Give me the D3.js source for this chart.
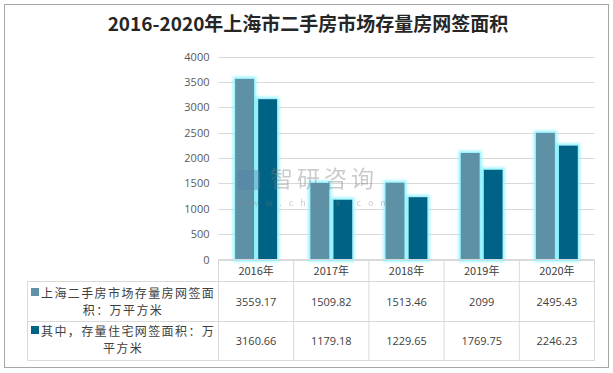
<!DOCTYPE html>
<html><head><meta charset="utf-8">
<script src="https://cdn.jsdelivr.net/npm/d3@7"></script>
<style>body{margin:0;background:#fff}svg{display:block}text{font-family:"Noto Sans CJK SC","Noto Sans",sans-serif}</style>
</head><body><svg id="c" width="613" height="373"></svg>
<script>
const categories = ["2016年","2017年","2018年","2019年","2020年"];
const seriesNames = ["上海二手房市场存量房网签面积：万平方米","其中，存量住宅网签面积：万平方米"];
const seriesLines = [["上海二手房市场存量房网签面","积：万平方米"],["其中，存量住宅网签面积：万","平方米"]];
const series1 = [3559.17,1509.82,1513.46,2099,2495.43];
const series2 = [3160.66,1179.18,1229.65,1769.75,2246.23];
const seriesLabels1 = ["3559.17","1509.82","1513.46","2099","2495.43"];
const seriesLabels2 = ["3160.66","1179.18","1229.65","1769.75","2246.23"];
const yTicks = [0,500,1000,1500,2000,2500,3000,3500,4000];
const colors = ["#5f91a6","#006285"];

const svg = d3.select("#c");
const defs = svg.append("defs");
const f = defs.append("filter").attr("id","glow").attr("x","-50%").attr("y","-20%").attr("width","200%").attr("height","140%");
f.append("feMorphology").attr("in","SourceAlpha").attr("operator","dilate").attr("radius",2.2).attr("result","d");
f.append("feGaussianBlur").attr("in","d").attr("stdDeviation",1.7).attr("result","b");
f.append("feFlood").attr("flood-color","#8ff2ff").attr("result","fl");
f.append("feComposite").attr("in","fl").attr("in2","b").attr("operator","in").attr("result","g");
const m = f.append("feMerge"); m.append("feMergeNode").attr("in","g"); m.append("feMergeNode").attr("in","SourceGraphic");

svg.append("rect").attr("x",4.5).attr("y",4.5).attr("width",604).attr("height",363).attr("fill","#fff").attr("stroke","#a6a6a6").attr("stroke-width",1);

svg.append("text").attr("x",308).attr("y",31).attr("text-anchor","middle").attr("font-size",19).attr("font-weight","bold").attr("fill","#262626").text("2016-2020年上海市二手房市场存量房网签面积");

const x0 = 218.5, x1 = 594.5;
const x = d3.scaleBand().domain(categories).range([x0,x1]);
const y = d3.scaleLinear().domain([0,4000]).range([259.5,56.5]);

// gridlines
svg.append("g").selectAll("line").data(yTicks).join("line")
 .attr("x1",x0).attr("x2",x1).attr("y1",d=>Math.round(y(d))+0.5).attr("y2",d=>Math.round(y(d))+0.5)
 .attr("stroke","#d9d9d9");
const ya = d3.axisLeft(y).tickValues(yTicks).tickFormat(d3.format("d")).tickSize(0).tickPadding(9);
const yg = svg.append("g").attr("transform",`translate(${x0},0)`).call(ya);
yg.select(".domain").remove();
yg.selectAll("text").attr("font-size",11).attr("fill","#595959").style("font-family","'Open Sans','DejaVu Sans',sans-serif");

const bw = 19, gap = 4;
const gb = svg.append("g").attr("filter","url(#glow)");
[series1,series2].forEach((s,i)=>{
  gb.selectAll(null).data(s).join("rect")
   .attr("x",(d,j)=>x(categories[j]) + x.bandwidth()/2 - bw - gap/2 + i*(bw+gap))
   .attr("width",bw)
   .attr("y",d=>y(d)).attr("height",d=>y(0)-y(d))
   .attr("fill",colors[i]);
});

// watermark (drawn over bars)
const wm = svg.append("g").attr("opacity",0.4);
wm.append("rect").attr("x",238).attr("y",170).attr("width",22).attr("height",20).attr("fill","#4f7fa8").attr("rx",3);
wm.append("text").attr("x",270).attr("y",187).attr("font-size",23).attr("fill","#7f7f7f").attr("letter-spacing",4).text("智研咨询");
wm.append("text").attr("x",237).attr("y",206).attr("font-size",9).attr("fill","#7f7f7f").attr("letter-spacing",7).text("www.chyxx.com");

// table
const rowY = [259.5,281.5,321.5,360.5];
const tl = svg.append("g").attr("stroke","#d9d9d9").attr("stroke-width",1);
const left = 27.5;
tl.append("line").attr("x1",x0).attr("x2",x1).attr("y1",rowY[0]).attr("y2",rowY[0]);
tl.append("line").attr("x1",left).attr("x2",x1).attr("y1",rowY[1]).attr("y2",rowY[1]);
tl.append("line").attr("x1",left).attr("x2",x1).attr("y1",rowY[2]).attr("y2",rowY[2]);
tl.append("line").attr("x1",left).attr("x2",x1).attr("y1",rowY[3]).attr("y2",rowY[3]);
tl.append("line").attr("x1",left).attr("x2",left).attr("y1",rowY[1]).attr("y2",rowY[3]);
categories.concat(["end"]).forEach((c,i)=>{
  const xx = i<categories.length ? x(c) : x1;
  tl.append("line").attr("x1",xx).attr("x2",xx).attr("y1",rowY[0]).attr("y2",rowY[3]);
});
const tt = svg.append("g").attr("font-size",11).attr("fill","#404040").attr("text-anchor","middle");
categories.forEach((c,i)=>{
  const cx = x(c)+x.bandwidth()/2;
  tt.append("text").attr("x",cx).attr("y",275).text(c);
  tt.append("text").attr("x",cx).attr("y",306).text(seriesLabels1[i]).style("font-family","'Open Sans','DejaVu Sans',sans-serif");
  tt.append("text").attr("x",cx).attr("y",345).text(seriesLabels2[i]).style("font-family","'Open Sans','DejaVu Sans',sans-serif");
});
const lcx = (left+x0)/2;
seriesLines.forEach((lines,i)=>{
  const base = i===0 ? 298 : 336;
  tt.append("text").attr("x",41).attr("y",base).attr("text-anchor","start").attr("font-size",12).attr("letter-spacing",1.4).text(lines[0]);
  tt.append("text").attr("x",lcx).attr("y",base+17).attr("font-size",12).attr("letter-spacing",1.4).text(lines[1]);
  svg.append("rect").attr("x",31).attr("y",base-10).attr("width",8).attr("height",8).attr("fill",colors[i]);
});
</script></body></html>
